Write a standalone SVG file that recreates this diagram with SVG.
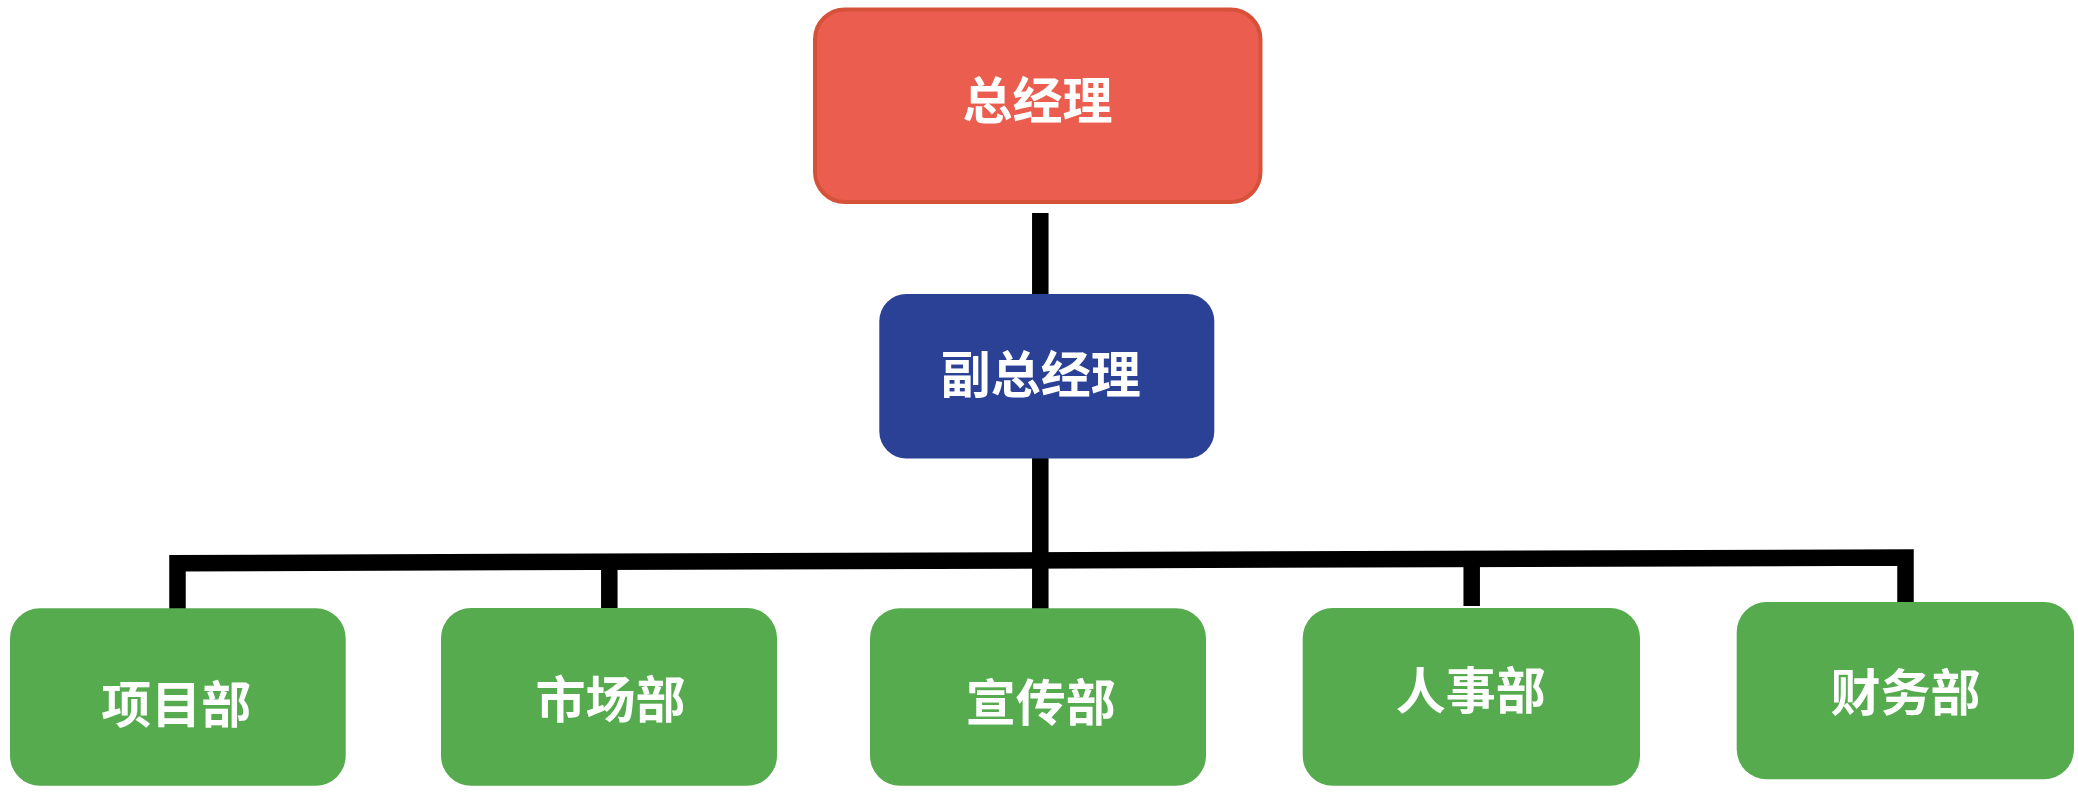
<svg xmlns="http://www.w3.org/2000/svg" width="2078" height="802" viewBox="0 0 2078 802">
<style>
.lbl{font-family:"Noto Sans CJK SC","Noto Sans CJK TC",sans-serif;font-weight:700;font-size:50px;fill:#ffffff;text-anchor:middle}
.dept{fill:#55AB4E}
.conn{fill:none;stroke:#000000;stroke-width:16.5;stroke-linejoin:miter;stroke-linecap:butt}
</style>
<rect width="2078" height="802" fill="#ffffff"/>
<g id="connectors">
<path class="conn" d="M1040.3,213 L1040.3,609"/>
<path class="conn" d="M177.5,609 L177.5,563.2 L1905.5,557.5 L1905.5,602"/>
<path class="conn" d="M609.3,609 L609.3,561"/>
<path class="conn" d="M1471.7,606 L1471.7,558"/>
</g>
<g id="node-gm">
<rect x="815" y="9.5" width="445.5" height="192.5" rx="30" fill="#EB5E4F" stroke="#D5513A" stroke-width="4"/>
<text class="lbl" x="1037.5" y="119">总经理</text>
</g>
<g id="node-dgm">
<rect x="879.3" y="294" width="335" height="164.5" rx="27" fill="#2A4196"/>
<text class="lbl" x="1040.8" y="393">副总经理</text>
</g>
<g id="node-project">
<rect class="dept" x="10" y="608.3" width="335.7" height="177.4" rx="30"/>
<text class="lbl" x="176.2" y="723">项目部</text>
</g>
<g id="node-market">
<rect class="dept" x="441" y="608" width="336" height="177.7" rx="30"/>
<text class="lbl" x="610.5" y="718">市场部</text>
</g>
<g id="node-publicity">
<rect class="dept" x="870" y="608.3" width="336" height="177.4" rx="30"/>
<text class="lbl" x="1040.8" y="721">宣传部</text>
</g>
<g id="node-hr">
<rect class="dept" x="1302.7" y="608" width="337.3" height="177.7" rx="30"/>
<text class="lbl" x="1470.8" y="709">人事部</text>
</g>
<g id="node-finance">
<rect class="dept" x="1736.7" y="602" width="337.3" height="177.3" rx="30"/>
<text class="lbl" x="1905.5" y="711">财务部</text>
</g>
</svg>
